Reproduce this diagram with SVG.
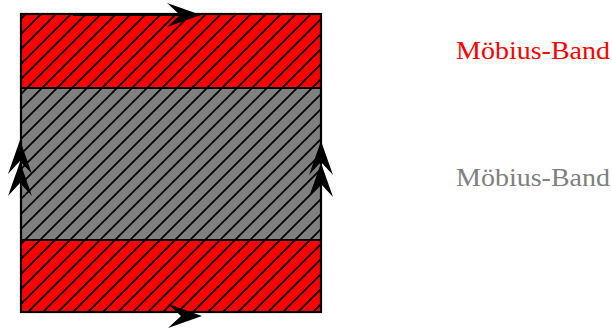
<svg xmlns="http://www.w3.org/2000/svg" width="612" height="330" viewBox="0 0 612 330">
<defs>
<pattern id="hatch" patternUnits="userSpaceOnUse" x="-5" y="0" width="15" height="15">
<path d="M-2,17 L17,-2 M-2,2 L2,-2 M13,17 L17,13" stroke="#000" stroke-width="1.8" fill="none"/>
</pattern>
<path id="ahr" d="M0,0 L-34,-12 L-21,0 L-34,12 Z" fill="#000"/>
</defs>
<style>
.lbl{font-family:"Liberation Serif","DejaVu Serif",serif;font-size:25px}
.band{stroke:#000;stroke-width:2}
</style>
<g id="red-top">
<rect class="band" x="21" y="14" width="300" height="74" fill="#ff0000"/>
<rect x="21" y="14" width="300" height="74" fill="url(#hatch)"/>
</g>
<g id="gray-mid">
<rect class="band" x="21" y="88" width="300" height="152" fill="#808080"/>
<rect x="21" y="88" width="300" height="152" fill="url(#hatch)"/>
</g>
<g id="red-bottom">
<rect class="band" x="21" y="240" width="300" height="72" fill="#ff0000"/>
<rect x="21" y="240" width="300" height="72" fill="url(#hatch)"/>
</g>
<rect x="21" y="14" width="300" height="298" fill="none" stroke="#000" stroke-width="2.2"/>
<g id="connectors">
<line x1="73" y1="15" x2="185" y2="15" stroke="#000" stroke-width="2"/>
<use href="#ahr" transform="translate(201,15)"/>
<use href="#ahr" transform="translate(202,316)"/>
<use href="#ahr" transform="translate(20,140) rotate(-90)"/>
<use href="#ahr" transform="translate(20,162) rotate(-90)"/>
<use href="#ahr" transform="translate(321,141) rotate(-90)"/>
<use href="#ahr" transform="translate(321,163) rotate(-90)"/>
</g>
<g id="label-red">
<text class="lbl" x="456" y="59" fill="#ff0000" textLength="154" lengthAdjust="spacingAndGlyphs">Möbius-Band</text>
</g>
<g id="label-gray">
<text class="lbl" x="456" y="186" fill="#808080" textLength="154" lengthAdjust="spacingAndGlyphs">Möbius-Band</text>
</g>
</svg>
